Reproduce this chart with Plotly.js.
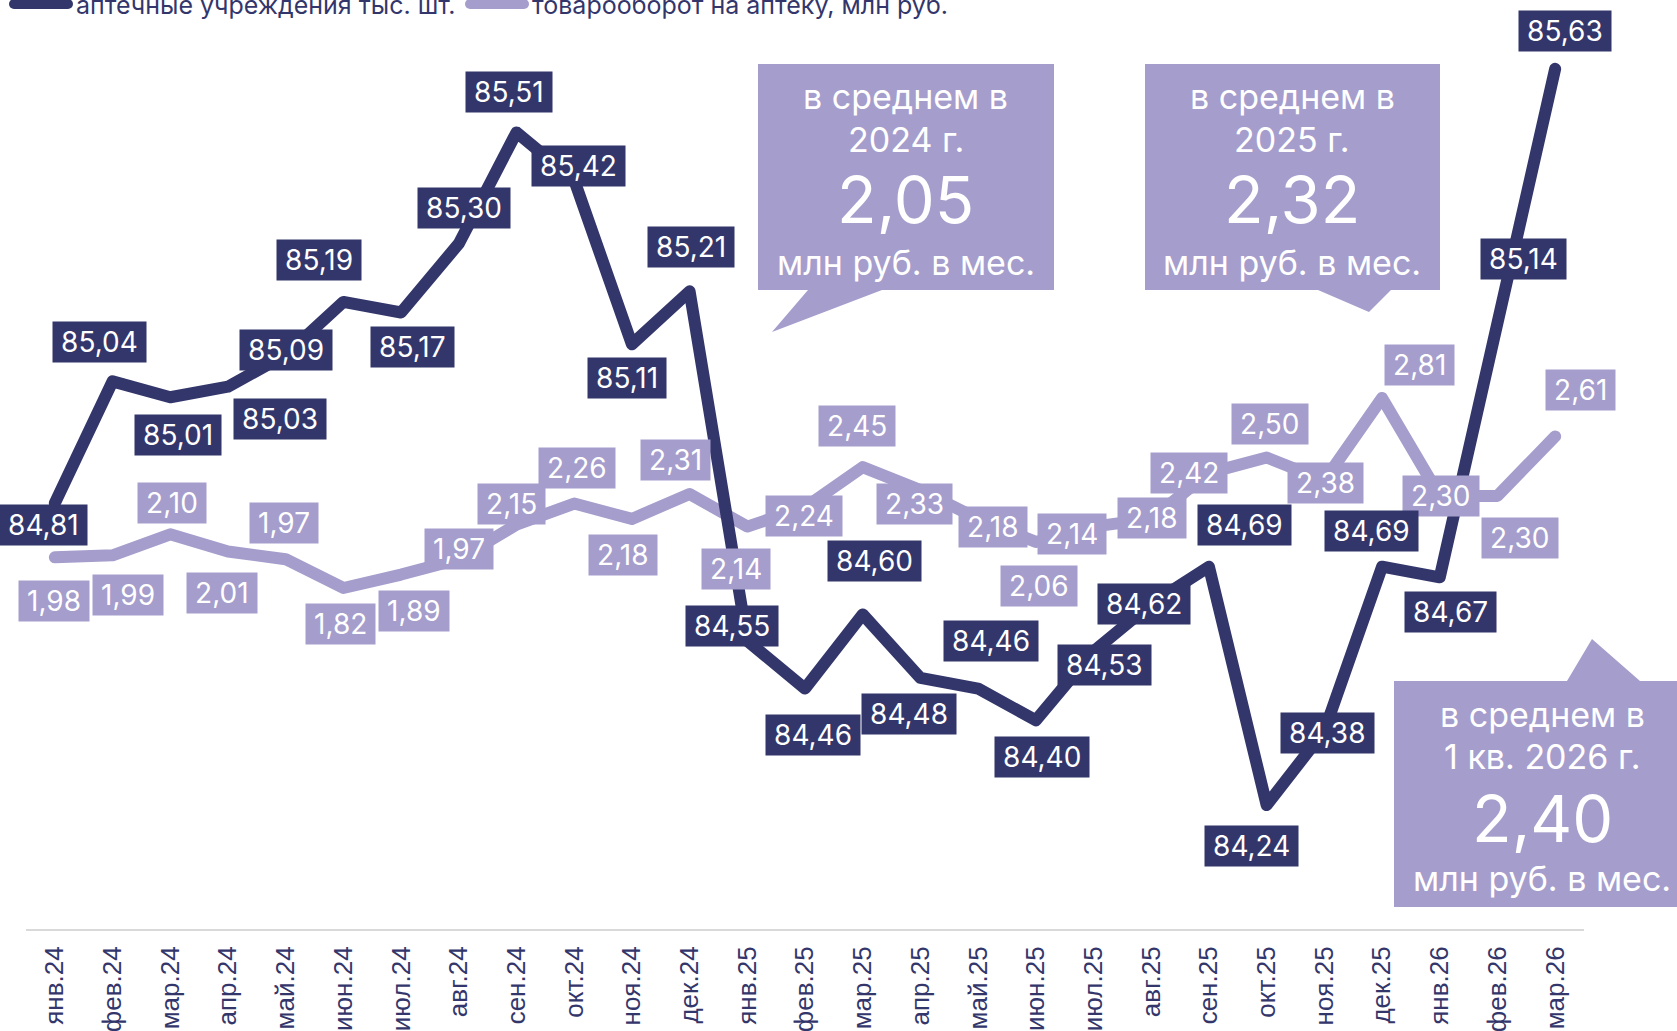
<!DOCTYPE html>
<html>
<head>
<meta charset="utf-8">
<script src="https://cdn.plot.ly/plotly-3.0.1.min.js"></script>
<style>
  html, body { margin: 0; padding: 0; background: #ffffff; }
  #chart { width: 1677px; height: 1031px; }
  .scatterlayer .js-line { stroke-linecap: round; stroke-linejoin: round; }
</style>
</head>
<body>
<div id="chart"></div>
<script>
// ---- data ----
const months = ['янв.24','фев.24','мар.24','апр.24','май.24','июн.24','июл.24','авг.24','сен.24','окт.24','ноя.24','дек.24',
                'янв.25','фев.25','мар.25','апр.25','май.25','июн.25','июл.25','авг.25','сен.25','окт.25','ноя.25','дек.25',
                'янв.26','фев.26','мар.26'];
const pharmacies = [84.81,85.04,85.01,85.03,85.09,85.19,85.17,85.30,85.51,85.42,85.11,85.21,
                    84.55,84.46,84.60,84.48,84.46,84.40,84.53,84.62,84.69,84.24,84.38,84.69,
                    84.67,85.14,85.63];
const turnover = [1.98,1.99,2.10,2.01,1.97,1.82,1.89,1.97,2.15,2.26,2.18,2.31,
                  2.14,2.24,2.45,2.33,2.18,2.06,2.14,2.18,2.42,2.50,2.38,2.81,
                  2.30,2.30,2.61];
const seriesNames = ['аптечные учреждения тыс. шт.', 'товарооборот на аптеку, млн руб.'];
const avgLabels = [
  {l1: 'в среднем в', l2: '2024 г.', v: '2,05', l3: 'млн руб. в мес.'},
  {l1: 'в среднем в', l2: '2025 г.', v: '2,32', l3: 'млн руб. в мес.'},
  {l1: 'в среднем в', l2: '1 кв. 2026 г.', v: '2,40', l3: 'млн руб. в мес.'}
];

// ---- label offsets (px) ----
const darkOff = [[-11,22],[-13,-39],[8,38],[52,32],[0,-5],[-24,-42],[11,35],[5,-36],[-7,-40],[4,-14],[-5,34],[1,-44],
                 [-15,-15],[8,46],[12,-53],[-11,36],[13,-48],[6,37],[11,14],[-7,0],[36,-42],[-15,41],[3,2],[-11,-36],
                 [11,35],[26,-69],[10,-38]];
const lightOff = [[-1,44],[15,40],[2,-31],[-6,41],[-2,-36],[-3,36],[13,36],[0,-10],[-5,-21],[3,-36],[-9,36],[-14,-34],
                  [-11,42],[-1,9],[-6,-41],[-6,14],[15,8],[3,44],[-22,7],[1,-1],[-20,0],[3,-34],[1,2],[37,-33],
                  [1,0],[23,42],[25,-46]];

// ---- styles ----
const DARK = '#33366b';
const LIGHT = '#a59dcc';
const FONT = 'Inter, "Noto Sans", sans-serif';
const TICKFONT = '"Liberation Sans", Arial, sans-serif';
const W = 1677, H = 1031;
const M = {l: 26, r: 93, t: 0, b: 102};
const PW = W - M.l - M.r, PH = H - M.t - M.b;
const px = x => (x - M.l) / PW;
const py = y => (PH + M.t - y) / PH;
const fmt = v => '\u2009' + v.toFixed(2).replace('.', ',') + '\u2009';

const traces = [
  {x: months, y: turnover, name: seriesNames[1], type: 'scatter', mode: 'lines', yaxis: 'y',
   line: {color: LIGHT, width: 12}, showlegend: false},
  {x: months, y: pharmacies, name: seriesNames[0], type: 'scatter', mode: 'lines', yaxis: 'y2',
   line: {color: DARK, width: 12}, showlegend: false}
];

const annotations = [];
turnover.forEach((v, i) => {
  annotations.push({x: months[i], y: v, xref: 'x', yref: 'y', text: fmt(v),
    showarrow: true, arrowcolor: 'rgba(0,0,0,0)', arrowwidth: 0.1, ax: lightOff[i][0], ay: lightOff[i][1],
    bgcolor: LIGHT, borderpad: 3, font: {family: FONT, size: 28, color: '#ffffff'}});
});
pharmacies.forEach((v, i) => {
  annotations.push({x: months[i], y: v, xref: 'x', yref: 'y2', text: fmt(v),
    showarrow: true, arrowcolor: 'rgba(0,0,0,0)', arrowwidth: 0.1, ax: darkOff[i][0], ay: darkOff[i][1],
    bgcolor: DARK, borderpad: 3, font: {family: FONT, size: 28, color: '#ffffff'}});
});

// callouts
const shapes = [];
function poly(pts, color) {
  const d = pts.map((p, k) => (k ? 'L' : 'M') + px(p[0]).toFixed(5) + ',' + py(p[1]).toFixed(5)).join(' ') + ' Z';
  shapes.push({type: 'path', xref: 'paper', yref: 'paper', path: d, fillcolor: color, line: {width: 0}, layer: 'above'});
}
poly([[758,64],[1054,64],[1054,290],[882,290],[772,332],[808,290],[758,290]], LIGHT);
poly([[1145,64],[1440,64],[1440,290],[1391,290],[1369,312],[1318,290],[1145,290]], LIGHT);
poly([[1394,681],[1567,681],[1592,639],[1640,681],[1700,681],[1700,907],[1394,907]], LIGHT);

const calloutPos = [
  {cx: 906, ys: [96, 139, 200, 262]},
  {cx: 1292, ys: [96, 139, 200, 262]},
  {cx: 1542, ys: [714, 756, 818, 878]}
];
avgLabels.forEach((c, k) => {
  const p = calloutPos[k];
  const items = [[c.l1, 34], [c.l2, 34], [c.v, 65], [c.l3, 34]];
  items.forEach((it, j) => {
    annotations.push({xref: 'paper', yref: 'paper', x: px(p.cx), y: py(p.ys[j]), text: it[0],
      showarrow: false, xanchor: 'center', yanchor: 'middle',
      font: {family: FONT, size: it[1], color: '#ffffff'}});
  });
});

// legend (drawn at top, partly cut off as in the source)
const legendItems = [
  {x0: 14, x1: 68, tx: 74, color: DARK, name: seriesNames[0]},
  {x0: 470, x1: 524, tx: 530, color: LIGHT, name: seriesNames[1]}
];
legendItems.forEach(it => {
  shapes.push({type: 'line', xref: 'paper', yref: 'paper', x0: px(it.x0), x1: px(it.x1), y0: py(4), y1: py(4),
    line: {color: it.color, width: 10}, layer: 'above'});
  annotations.push({xref: 'paper', yref: 'paper', x: px(it.tx), y: py(5), text: it.name, showarrow: false,
    xanchor: 'left', yanchor: 'middle', font: {family: FONT, size: 25, color: DARK}});
});

const layout = {
  width: W, height: H,
  margin: {l: M.l, r: M.r, t: M.t, b: M.b, autoexpand: false},
  paper_bgcolor: '#ffffff', plot_bgcolor: '#ffffff',
  showlegend: false,
  hovermode: false,
  xaxis: {type: 'category', range: [-0.5, months.length - 0.5], autorange: false,
          showline: true, linecolor: '#d9d9d9', linewidth: 2, showgrid: false, zeroline: false,
          ticks: '', tickangle: -90, ticklabelstandoff: 5,
          tickfont: {family: TICKFONT, size: 26, color: DARK}, fixedrange: true},
  yaxis: {range: [0.043, 4.884], autorange: false, visible: false, fixedrange: true},
  yaxis2: {range: [84.006, 85.760], autorange: false, overlaying: 'y', side: 'right', visible: false, fixedrange: true},
  shapes: shapes,
  annotations: annotations
};

Plotly.newPlot('chart', traces, layout, {staticPlot: true, displayModeBar: false}).then(() => {
  document.querySelectorAll('.shapelayer path').forEach(p => p.style.strokeLinecap = 'round');
});
</script>
</body>
</html>
